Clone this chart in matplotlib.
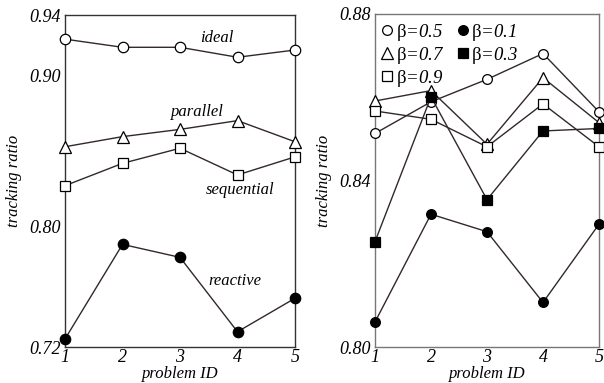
import matplotlib
matplotlib.use("Agg")
import matplotlib.pyplot as plt

plt.rcParams['font.family'] = ['Liberation Serif', 'DejaVu Serif']
plt.rcParams['mathtext.fontset'] = 'custom'
plt.rcParams['mathtext.rm'] = 'Liberation Serif'
plt.rcParams['mathtext.it'] = 'Liberation Serif:italic'

problems = [1, 2, 3, 4, 5]

# Left panel
ideal = [0.924, 0.9186, 0.9186, 0.912, 0.9168]
parallel = [0.8527, 0.8594, 0.8642, 0.870, 0.856]
sequential = [0.8269, 0.8417, 0.8517, 0.834, 0.846]
reactive = [0.7253, 0.788, 0.7794, 0.7301, 0.7523]
left_yticks = [0.72, 0.80, 0.90, 0.94]
left_yticklabels = ["0.72", "0.80", "0.90", "0.94"]

# Right panel
b05 = [0.8513, 0.8589, 0.8643, 0.8705, 0.8565]
b07 = [0.8591, 0.8616, 0.8487, 0.8647, 0.8539]
b09 = [0.8567, 0.8547, 0.8481, 0.8584, 0.8481]
b01 = [0.806, 0.8319, 0.8277, 0.8107, 0.8295]
b03 = [0.8253, 0.8601, 0.8354, 0.8519, 0.8525]
right_yticks = [0.80, 0.84, 0.88]
right_yticklabels = ["0.80", "0.84", "0.88"]

W, H = 604, 383
fig = plt.figure(figsize=(W / 100, H / 100), dpi=100)

ax1 = fig.add_axes([65 / W, 1 - 347 / H, 230 / W, 332 / H])
ax2 = fig.add_axes([375 / W, 1 - 347 / H, 224 / W, 333 / H])

lc = '#332828'
fs = 13
afs = 12

def style(ax, yticks, ylabels, ylim, spine_color):
    ax.set_xlim(1, 5)
    ax.set_ylim(*ylim)
    ax.set_xticks(problems)
    ax.set_xticklabels([str(p) for p in problems], fontstyle='italic', fontsize=fs)
    ax.set_yticks(yticks)
    ax.set_yticklabels(ylabels, fontstyle='italic', fontsize=fs)
    ax.tick_params(length=0, pad=3)
    ax.tick_params(axis='x', pad=1.5)
    for s in ax.spines.values():
        s.set_color(spine_color)
        s.set_linewidth(1.0)
    ax.set_xlabel('problem ID', fontstyle='italic', fontsize=afs, labelpad=0)
    ax.set_ylabel('tracking ratio', fontstyle='italic', fontsize=afs, labelpad=5)

ms = 7.5
kw = dict(color=lc, lw=1.0, markeredgecolor='black', markeredgewidth=0.9, clip_on=False, zorder=3)
ax1.plot(problems, ideal, marker='o', markersize=ms, markerfacecolor='white', **kw)
ax1.plot(problems, parallel, marker='^', markersize=ms + 1, markerfacecolor='white', **kw)
ax1.plot(problems, sequential, marker='s', markersize=ms - 1, markerfacecolor='white', **kw)
ax1.plot(problems, reactive, marker='o', markersize=ms, markerfacecolor='black', **kw)
style(ax1, left_yticks, left_yticklabels, (0.72, 0.94), '#333333')

ax1.text(3.64, 0.9245, 'ideal', fontstyle='italic', fontsize=afs, ha='center', va='center')
ax1.text(3.30, 0.8755, 'parallel', fontstyle='italic', fontsize=afs, ha='center', va='center')
ax1.text(4.04, 0.8240, 'sequential', fontstyle='italic', fontsize=afs, ha='center', va='center')
ax1.text(3.96, 0.7637, 'reactive', fontstyle='italic', fontsize=afs, ha='center', va='center')

ms2 = 7
h05, = ax2.plot(problems, b05, marker='o', markersize=ms2, markerfacecolor='white', **kw)
h07, = ax2.plot(problems, b07, marker='^', markersize=ms2 + 1.5, markerfacecolor='white', **kw)
h09, = ax2.plot(problems, b09, marker='s', markersize=ms2 - 0.5, markerfacecolor='white', **kw)
h01, = ax2.plot(problems, b01, marker='o', markersize=ms2, markerfacecolor='black', **kw)
h03, = ax2.plot(problems, b03, marker='s', markersize=ms2 - 0.5, markerfacecolor='black', **kw)
style(ax2, right_yticks, right_yticklabels, (0.80, 0.88), '#777777')

labels = [r'$\mathrm{\beta}$=0.5', r'$\mathrm{\beta}$=0.7', r'$\mathrm{\beta}$=0.9',
          r'$\mathrm{\beta}$=0.1', r'$\mathrm{\beta}$=0.3']
leg = ax2.legend([h05, h07, h09, h01, h03], labels, ncol=2, frameon=False,
                 loc='upper left', bbox_to_anchor=(-0.02, 1.01),
                 handlelength=0.6, handletextpad=0.15, columnspacing=0.7,
                 labelspacing=0.1, borderaxespad=0.2,
                 prop={'style': 'italic', 'size': 13.5})
for h in leg.legend_handles:
    h.set_linestyle('none')

fig.savefig('out.png', dpi=100)
